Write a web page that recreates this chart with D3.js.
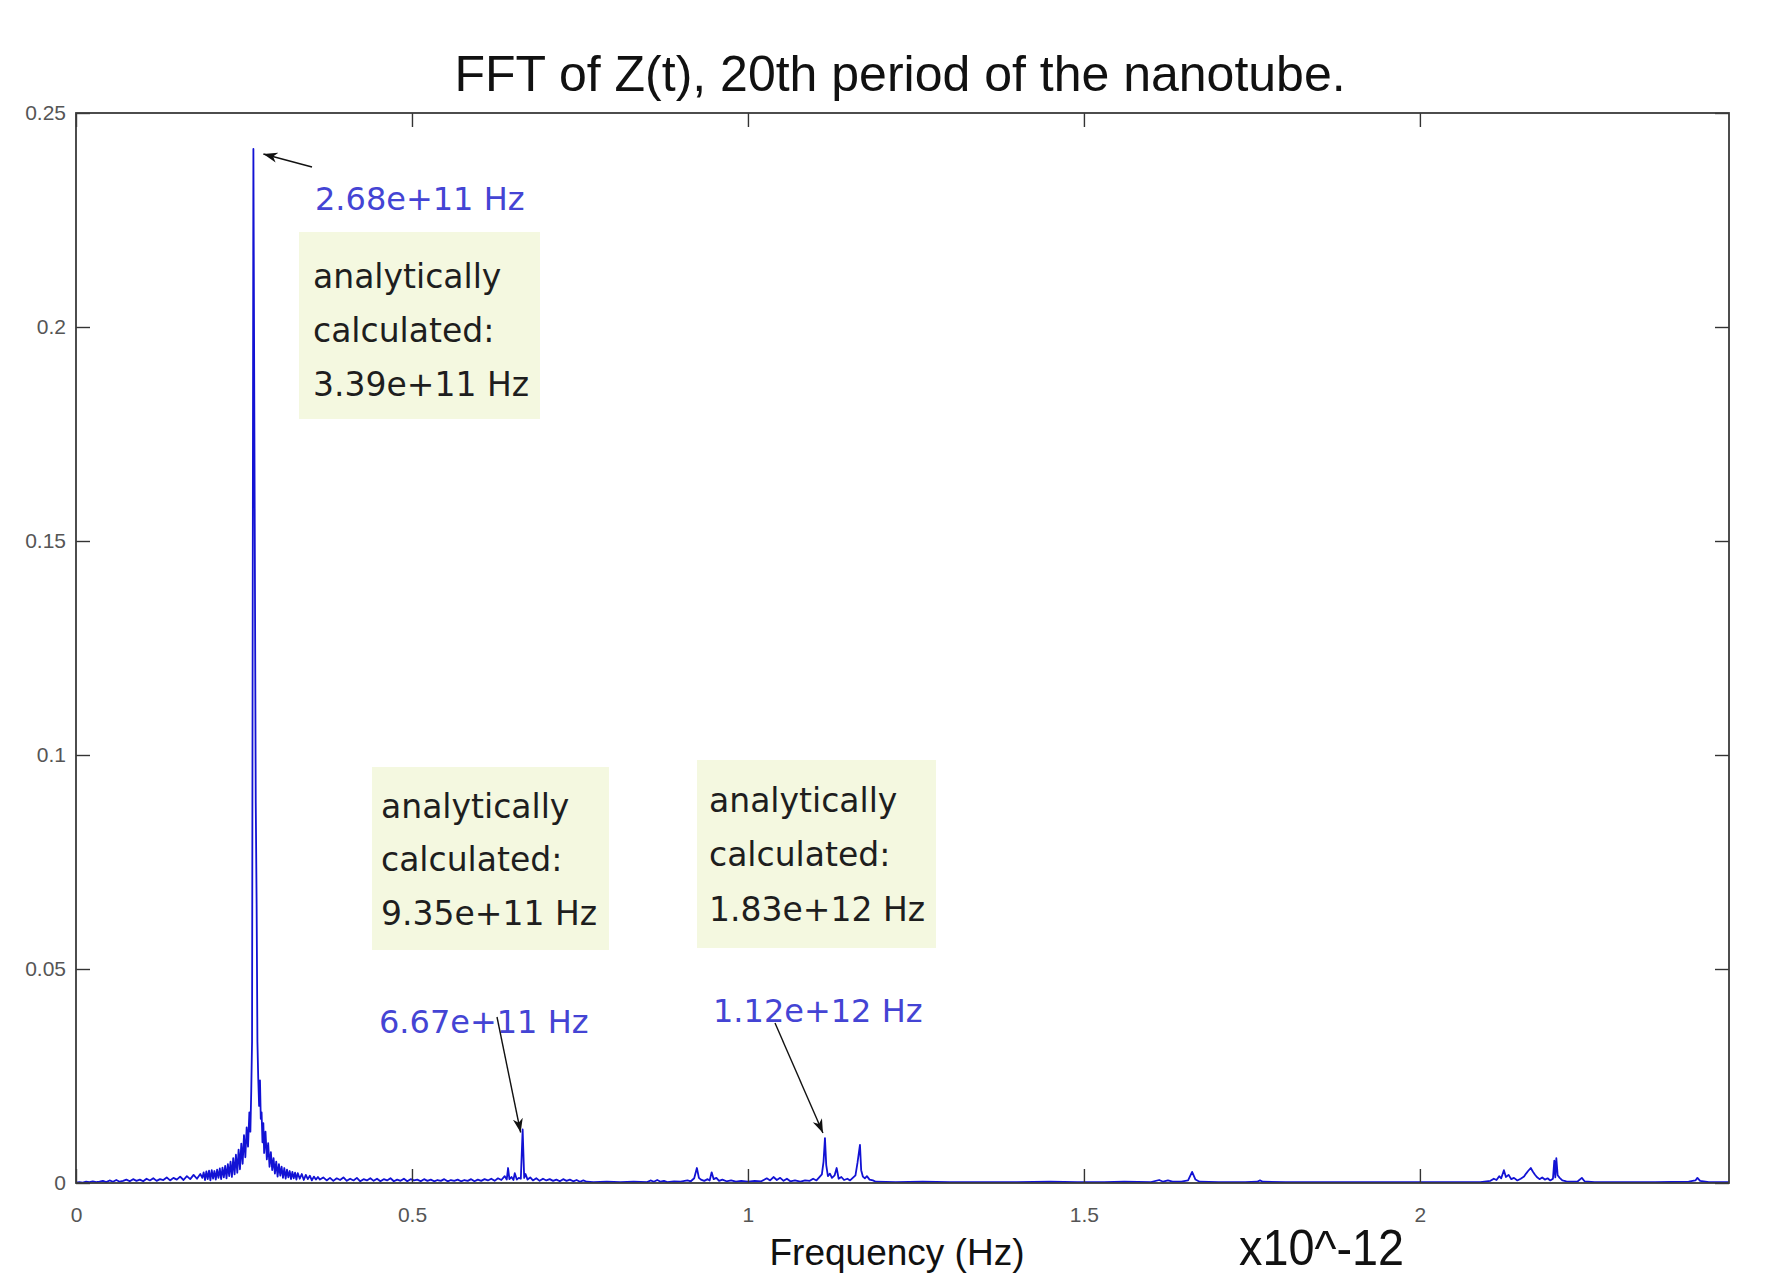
<!DOCTYPE html>
<html>
<head>
  <meta charset="utf-8">
  <script src="https://d3js.org/d3.v7.min.js"></script>
  <style type="text/css">
    body { margin: 0; background: #fff; }
    svg { display: block; }
    .tick text { font-family: "Liberation Sans", Arial, sans-serif; font-size: 21px; fill: #555; }
    .note { font-family: "DejaVu Sans", sans-serif; }
  </style>
</head>
<body>
  <div id="chart"></div>

  <script type="text/javascript">
    // spectrum, frequency in units of 1e12 Hz, amplitude as plotted
    var floorLow = [
      [0.000,0.0001],[0.005,0.0002],[0.010,0.0001],[0.015,0.0003],[0.020,0.0002],[0.025,0.0004],
      [0.030,0.0002],[0.035,0.0003],[0.040,0.0005],[0.045,0.0002],[0.050,0.0006],[0.055,0.0003],
      [0.060,0.0007],[0.065,0.0003],[0.070,0.0005],[0.075,0.0008],[0.080,0.0004],[0.085,0.0009],
      [0.090,0.0005],[0.095,0.0008],[0.100,0.0004],[0.105,0.0010],[0.110,0.0006],[0.115,0.0011],
      [0.120,0.0005],[0.125,0.0009],[0.130,0.0007],[0.135,0.0013],[0.140,0.0006],[0.145,0.0012],
      [0.150,0.0008],[0.155,0.0015],[0.160,0.0007],[0.165,0.0016],[0.170,0.0009],[0.175,0.0019],
      [0.180,0.0010],[0.185,0.0021],[0.188,0.0012]
    ];
    var mainPeak = [
      [0.190,0.0025],[0.192,0.0007],[0.194,0.0027],[0.196,0.0009],[0.198,0.0029],[0.200,0.0006],
      [0.202,0.0030],[0.204,0.0010],[0.206,0.0028],[0.208,0.0008],[0.210,0.0031],[0.212,0.0012],
      [0.214,0.0034],[0.216,0.0009],[0.218,0.0036],[0.220,0.0013],[0.222,0.0040],[0.224,0.0011],
      [0.226,0.0044],[0.228,0.0016],[0.230,0.0050],[0.232,0.0014],[0.234,0.0058],[0.236,0.0020],
      [0.238,0.0066],[0.240,0.0024],[0.242,0.0078],[0.244,0.0032],[0.246,0.0092],[0.248,0.0045],
      [0.250,0.0112],[0.252,0.0060],[0.254,0.0130],[0.256,0.0085],[0.258,0.0165],[0.2595,0.0120],
      [0.2608,0.0215],[0.2620,0.0330],[0.2640,0.2416],[0.2660,0.1540],[0.2675,0.0888],[0.2688,0.0650],
      [0.2700,0.0330],[0.2712,0.0245],[0.2725,0.0180],[0.2738,0.0240],[0.2750,0.0150],[0.2762,0.0165],
      [0.2775,0.0095],[0.2788,0.0140],[0.280,0.0070],[0.282,0.0120],[0.284,0.0055],[0.286,0.0093],
      [0.288,0.0038],[0.290,0.0072],[0.292,0.0030],[0.294,0.0058],[0.296,0.0022],[0.298,0.0050],
      [0.300,0.0015],[0.302,0.0044],[0.304,0.0017],[0.306,0.0038],[0.308,0.0012],[0.310,0.0035],
      [0.312,0.0010],[0.314,0.0031],[0.316,0.0013],[0.318,0.0028],[0.320,0.0009],[0.322,0.0026],
      [0.324,0.0011],[0.326,0.0024],[0.328,0.0008],[0.330,0.0023],[0.333,0.0010],[0.336,0.0021],
      [0.339,0.0007],[0.342,0.0019],[0.345,0.0009],[0.348,0.0017],[0.351,0.0006],[0.354,0.0015],
      [0.357,0.0008],[0.360,0.0014]
    ];
    var floorMid = [
      [0.363,0.0008],[0.368,0.0013],[0.373,0.0006],[0.378,0.0012],[0.383,0.0005],[0.388,0.0011],
      [0.393,0.0007],[0.398,0.0013],[0.403,0.0005],[0.408,0.0010],[0.413,0.0006],[0.418,0.0012],
      [0.423,0.0004],[0.428,0.0009],[0.433,0.0006],[0.438,0.0011],[0.443,0.0005],[0.448,0.0010],
      [0.453,0.0004],[0.458,0.0009],[0.463,0.0006],[0.468,0.0011],[0.473,0.0004],[0.478,0.0008],
      [0.483,0.0005],[0.488,0.0010],[0.493,0.0004],[0.498,0.0009],[0.503,0.0006],[0.508,0.0008],
      [0.513,0.0004],[0.518,0.0009],[0.523,0.0005],[0.528,0.0008],[0.533,0.0004],[0.538,0.0007],
      [0.543,0.0005],[0.548,0.0009],[0.553,0.0004],[0.558,0.0007],[0.563,0.0005],[0.568,0.0008],
      [0.573,0.0004],[0.578,0.0007],[0.583,0.0005],[0.588,0.0009],[0.593,0.0004],[0.598,0.0008],
      [0.603,0.0005],[0.608,0.0009],[0.613,0.0006],[0.618,0.0010],[0.623,0.0005],[0.628,0.0011],
      [0.633,0.0007],[0.638,0.0016],[0.641,0.0008],[0.643,0.0035],[0.645,0.0009],[0.648,0.0014],
      [0.651,0.0007],[0.653,0.0023],[0.656,0.0008],[0.659,0.0012],[0.662,0.0010],[0.6647,0.0125],
      [0.667,0.0012],[0.669,0.0021],[0.672,0.0008],[0.676,0.0013],[0.680,0.0006],[0.685,0.0011],
      [0.690,0.0005],[0.695,0.0010],[0.700,0.0006],[0.705,0.0009],[0.710,0.0005],[0.715,0.0008],
      [0.720,0.0004],[0.725,0.0009],[0.730,0.0005],[0.735,0.0008],[0.740,0.0004],[0.745,0.0007],
      [0.750,0.0003],[0.755,0.0006],[0.760,0.0003]
    ];
    var midPeaks = [
      [0.770,0.0002],[0.790,0.0003],[0.810,0.0002],[0.830,0.0003],[0.850,0.0002],[0.855,0.0006],
      [0.860,0.0003],[0.865,0.0007],[0.870,0.0003],[0.875,0.0005],[0.880,0.0002],[0.890,0.0004],
      [0.900,0.0003],[0.910,0.0006],[0.915,0.0004],[0.920,0.0011],[0.924,0.0035],[0.927,0.0012],
      [0.930,0.0008],[0.935,0.0005],[0.940,0.0009],[0.943,0.0006],[0.946,0.0025],[0.949,0.0009],
      [0.953,0.0012],[0.957,0.0005],[0.962,0.0008],[0.968,0.0004],[0.975,0.0006],[0.982,0.0003],
      [0.990,0.0005],[1.000,0.0003],[1.010,0.0005],[1.020,0.0004],[1.028,0.0011],[1.033,0.0006],
      [1.038,0.0014],[1.043,0.0007],[1.048,0.0012],[1.053,0.0005],[1.058,0.0010],[1.063,0.0004],
      [1.070,0.0006],[1.078,0.0003],[1.085,0.0006],[1.092,0.0005],[1.097,0.0010],[1.102,0.0006],
      [1.106,0.0013],[1.110,0.0020],[1.1125,0.0050],[1.1146,0.0105],[1.1165,0.0042],[1.119,0.0016],
      [1.122,0.0022],[1.125,0.0012],[1.129,0.0018],[1.132,0.0035],[1.135,0.0010],[1.139,0.0014],
      [1.143,0.0007],[1.148,0.0010],[1.152,0.0006],[1.156,0.0012],[1.160,0.0018],[1.163,0.0047],
      [1.1667,0.0089],[1.1685,0.0030],[1.171,0.0015],[1.174,0.0011],[1.177,0.0016],[1.181,0.0008],
      [1.186,0.0006],[1.190,0.0003]
    ];
    var floorHigh = [
      [1.22,0.0002],[1.26,0.0003],[1.30,0.0002],[1.35,0.0002],[1.40,0.0002],[1.45,0.0003],
      [1.49,0.0002],[1.53,0.0002],[1.56,0.0003],[1.60,0.0002],[1.612,0.0007],[1.618,0.0003],
      [1.625,0.0006],[1.632,0.0003],[1.645,0.0003],[1.655,0.0006],[1.661,0.0026],[1.666,0.0008],
      [1.672,0.0003],[1.70,0.0002],[1.74,0.0002],[1.758,0.0003],[1.762,0.0006],[1.766,0.0003],
      [1.80,0.0002],[1.85,0.0002],[1.90,0.0002],[1.95,0.0002],[2.00,0.0002],[2.05,0.0002],
      [2.09,0.0002],[2.105,0.0005]
    ];
    var highCluster = [
      [2.110,0.0010],[2.114,0.0007],[2.118,0.0016],[2.121,0.0011],[2.125,0.0030],[2.128,0.0014],
      [2.132,0.0019],[2.136,0.0009],[2.140,0.0012],[2.145,0.0006],[2.150,0.0010],[2.155,0.0015],
      [2.158,0.0022],[2.161,0.0028],[2.165,0.0035],[2.168,0.0027],[2.171,0.0020],[2.174,0.0014],
      [2.178,0.0009],[2.182,0.0013],[2.186,0.0008],[2.190,0.0011],[2.194,0.0006],[2.198,0.0010],
      [2.200,0.0052],[2.2015,0.0013],[2.203,0.0058],[2.205,0.0018],[2.208,0.0012],[2.212,0.0006],
      [2.218,0.0004],[2.225,0.0003],[2.235,0.0004],[2.241,0.0012],[2.245,0.0004],[2.26,0.0002],
      [2.30,0.0002],[2.35,0.0002],[2.40,0.0003],[2.41,0.0006],[2.413,0.0012],[2.417,0.0005],
      [2.43,0.0002],[2.46,0.0002]
    ];

    var xTicks = [0, 0.5, 1, 1.5, 2];
    var yTicks = [0, 0.05, 0.1, 0.15, 0.2, 0.25];

    var peakFreqs = [0.264, 0.6647, 1.1146];
    var peakLabels = ['2.68e+11 Hz', '6.67e+11 Hz', '1.12e+12 Hz'];
    var calcLabels = ['3.39e+11 Hz', '9.35e+11 Hz', '1.83e+12 Hz'];

    var spectrum = [].concat(floorLow, mainPeak, floorMid, midPeaks, floorHigh, highCluster);

    var W = 1782, H = 1276;
    var plot = {left: 76, right: 1729, top: 113, bottom: 1183};

    var svg = d3.select('#chart').append('svg')
        .attr('width', W).attr('height', H);

    var x = d3.scaleLinear().domain([0, 2.46]).range([plot.left, plot.right]);
    var y = d3.scaleLinear().domain([0, 0.25]).range([plot.bottom, plot.top]);

    svg.append('defs').append('clipPath').attr('id', 'clip')
      .append('rect')
        .attr('x', plot.left).attr('y', plot.top - 2)
        .attr('width', plot.right - plot.left).attr('height', plot.bottom - plot.top + 2);

    // title + axis labels
    svg.append('text')
        .attr('x', 900).attr('y', 91)
        .attr('text-anchor', 'middle')
        .style('font-family', '"Liberation Sans", Arial, sans-serif')
        .style('font-size', '50px')
        .style('fill', '#111')
        .text('FFT of Z(t), 20th period of the nanotube.');

    svg.append('text')
        .attr('x', 897).attr('y', 1265)
        .attr('text-anchor', 'middle')
        .style('font-family', '"Liberation Sans", Arial, sans-serif')
        .style('font-size', '37px')
        .style('fill', '#111')
        .text('Frequency (Hz)');

    svg.append('text')
        .attr('x', 1239).attr('y', 1265)
        .attr('textLength', 165)
        .attr('lengthAdjust', 'spacingAndGlyphs')
        .style('font-family', '"Liberation Sans", Arial, sans-serif')
        .style('font-size', '50px')
        .style('fill', '#111')
        .text('x10^-12');

    // spectrum line
    var line = d3.line()
        .x(function(d) { return x(d[0]); })
        .y(function(d) { return y(d[1]); });

    svg.append('path')
        .datum(spectrum)
        .attr('clip-path', 'url(#clip)')
        .attr('d', line)
        .attr('fill', 'none')
        .attr('stroke', '#1212d4')
        .attr('stroke-width', 1.8)
        .attr('stroke-linejoin', 'round');

    // axes, matlab style ticks pointing inward
    var fmt = function(d) { return String(d); };
    function styleAxis(g) {
      g.selectAll('.tick line').attr('stroke', '#333').attr('stroke-width', 1.4);
      g.select('.domain').remove();
    }
    svg.append('g').attr('transform', 'translate(0,' + plot.bottom + ')')
        .call(d3.axisBottom(x).tickValues(xTicks).tickFormat(fmt).tickSize(-14).tickPadding(24))
        .call(styleAxis);
    svg.append('g').attr('transform', 'translate(0,' + plot.top + ')')
        .call(d3.axisTop(x).tickValues(xTicks).tickFormat('').tickSize(-14))
        .call(styleAxis);
    svg.append('g').attr('transform', 'translate(' + plot.left + ',0)')
        .call(d3.axisLeft(y).tickValues(yTicks).tickFormat(fmt).tickSize(-14).tickPadding(10))
        .call(styleAxis);
    svg.append('g').attr('transform', 'translate(' + plot.right + ',0)')
        .call(d3.axisRight(y).tickValues(yTicks).tickFormat('').tickSize(-14))
        .call(styleAxis);
    svg.selectAll('.tick text').attr('font-size', null).style('font-family', null);

    svg.append('rect')
        .attr('x', plot.left).attr('y', plot.top)
        .attr('width', plot.right - plot.left).attr('height', plot.bottom - plot.top)
        .attr('fill', 'none').attr('stroke', '#3a3a3a').attr('stroke-width', 1.8);

    // annotations
    svg.select('defs').append('marker')
        .attr('id', 'head').attr('viewBox', '0 -6 14 12')
        .attr('refX', 14).attr('refY', 0)
        .attr('markerWidth', 14).attr('markerHeight', 12)
        .attr('markerUnits', 'userSpaceOnUse')
        .attr('orient', 'auto')
      .append('path').attr('d', 'M0,-5L14,0L0,5L4,0Z').attr('fill', '#111');

    var boxes = [
      {x: 299, y: 232, w: 241, h: 187, tx: 313, base: [288, 342, 396]},
      {x: 372, y: 767, w: 237, h: 183, tx: 381, base: [818, 871, 925]},
      {x: 697, y: 760, w: 239, h: 188, tx: 709, base: [812, 866, 921]}
    ];
    var pointers = [
      {lx: 315, ly: 210, tail: [312, 167], off: [10, 5]},
      {lx: 379, ly: 1033, tail: [497, 1017], off: [-2, 3]},
      {lx: 713, ly: 1022, tail: [775, 1023], off: [-2, -5]}
    ];

    boxes.forEach(function(b, i) {
      svg.append('rect')
          .attr('x', b.x).attr('y', b.y).attr('width', b.w).attr('height', b.h)
          .attr('fill', '#f4f8e0');
      ['analytically', 'calculated:', calcLabels[i]].forEach(function(t, j) {
        svg.append('text').attr('class', 'note')
            .attr('x', b.tx).attr('y', b.base[j])
            .style('font-size', '33px').style('fill', '#1e1e1e')
            .text(t);
      });
    });

    pointers.forEach(function(p, i) {
      var f = peakFreqs[i];
      var pk = spectrum.filter(function(d) { return Math.abs(d[0] - f) < 1e-6; })[0];
      var tip = [x(pk[0]) + p.off[0], y(pk[1]) + p.off[1]];
      svg.append('text').attr('class', 'note')
          .attr('x', p.lx).attr('y', p.ly)
          .style('font-size', '32px').style('fill', '#4444d4')
          .text(peakLabels[i]);
      svg.append('line')
          .attr('x1', p.tail[0]).attr('y1', p.tail[1])
          .attr('x2', tip[0]).attr('y2', tip[1])
          .attr('stroke', '#111').attr('stroke-width', 1.4)
          .attr('marker-end', 'url(#head)');
    });
  </script>
</body>
</html>
